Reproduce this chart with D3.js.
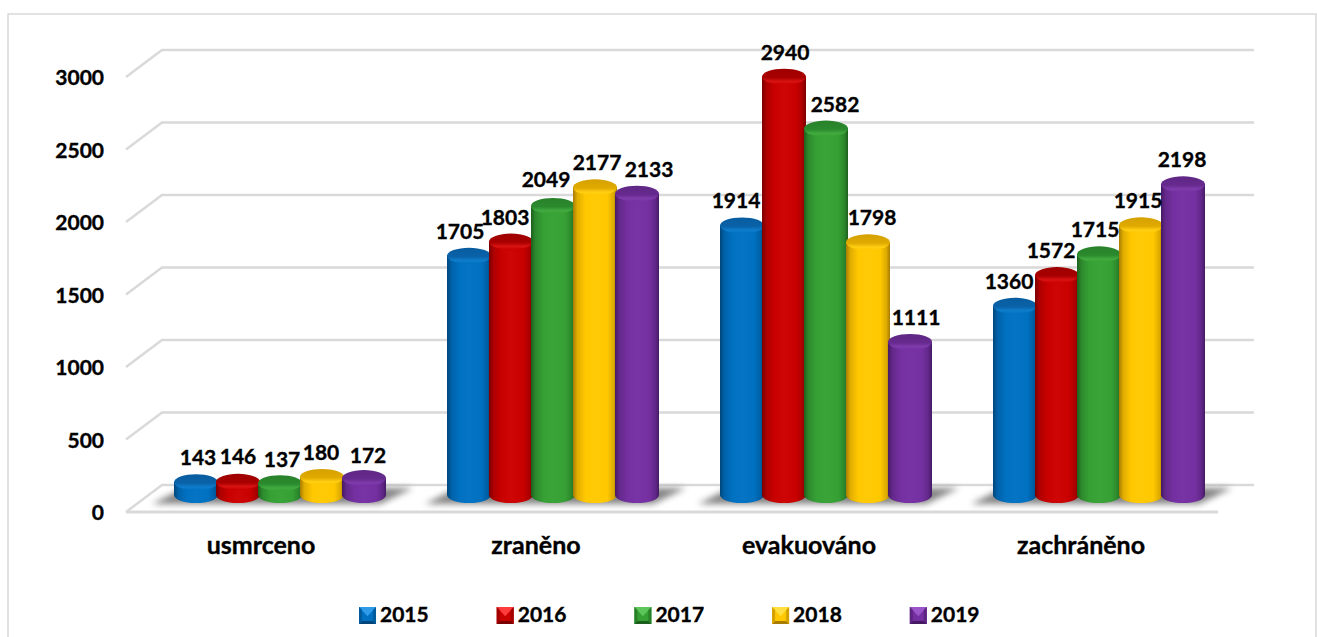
<!DOCTYPE html>
<html><head><meta charset="utf-8">
<script src="https://cdn.jsdelivr.net/npm/d3@7/dist/d3.min.js"></script>
<style>html,body{margin:0;padding:0;background:#fff}svg{display:block}
text{font-family:Lato,"Open Sans",sans-serif;font-weight:700;fill:#000;stroke:#000;stroke-width:.35px}</style></head>
<body><svg id="c" width="1317" height="637"></svg>
<script>
const categories = ["usmrceno","zraněno","evakuováno","zachráněno"];
const years = ["2015","2016","2017","2018","2019"];
const v2015 = [143,1705,1914,1360];
const v2016 = [146,1803,2940,1572];
const v2017 = [137,2049,2582,1715];
const v2018 = [180,2177,1798,1915];
const v2019 = [172,2133,1111,2198];
const yTicks = [0,500,1000,1500,2000,2500,3000];
const seriesValues = [v2015,v2016,v2017,v2018,v2019];
const seriesColors = [
 {mid:"#0070c0",dark:"#00467a",light:"#2f9be8",top:"#0a62a8"},
 {mid:"#c80000",dark:"#7a0000",light:"#ff3b3b",top:"#a80000"},
 {mid:"#36a035",dark:"#1c5f1d",light:"#5cc65a",top:"#2b8a2d"},
 {mid:"#ffc800",dark:"#a87c00",light:"#ffe040",top:"#e0aa00"},
 {mid:"#7430a0",dark:"#451a63",light:"#9a55c8",top:"#662a8e"}];
// small manual label nudges, as in the hand-placed labels of the original
const labelDx = [[2,0,2,-1,4],[-9,-6,-7,2,12],[-6,1,9,4,6],[-6,-6,-4,-3,-1]];
const labelDy = [[0,-1,1,0,2],[0,0,-2,0,0],[0,0,0,0,0],[0,0,0,0,0]];
const categoryDx = [-19,-17,-17,-18];

const svg=d3.select("#c");
const defs=svg.append("defs");
const depthX=36, depthY=-27;
const floorY=512, frontL=126, frontR=1218;
const yAxis=d3.scaleLinear().domain([0,3000]).range([floorY,77]);
const x0=d3.scaleBand().domain(categories).range([143.5,1235.5]);
const x1=d3.scaleBand().domain(years).range([-105,105]);
const barW=44, ry=8, baseY=495;
const yTop=d3.scaleLinear().domain([0,3000]).range([503,68]);

defs.append("filter").attr("id","soft").attr("x","-5%").attr("y","-50%").attr("width","110%").attr("height","200%")
 .append("feGaussianBlur").attr("stdDeviation",0.5);
defs.append("filter").attr("id","shadow").attr("x","-20%").attr("y","-60%").attr("width","140%").attr("height","220%")
 .append("feGaussianBlur").attr("stdDeviation",3);

seriesColors.forEach((c,i)=>{
 const g=defs.append("linearGradient").attr("id","cyl"+i);
 [[0,c.dark],[.1,d3.interpolateRgb(c.dark,c.mid)(.65)],[.28,c.mid],[.5,d3.interpolateRgb(c.mid,c.light)(.1)],[.78,c.mid],[.92,d3.interpolateRgb(c.dark,c.mid)(.6)],[1,c.dark]]
  .forEach(s=>g.append("stop").attr("offset",s[0]).attr("stop-color",s[1]));
 const t=defs.append("linearGradient").attr("id","top"+i).attr("x1",0).attr("y1",0).attr("x2",0).attr("y2",1);
 t.append("stop").attr("offset",0).attr("stop-color",d3.interpolateRgb(c.top,c.dark)(.2));
 t.append("stop").attr("offset",.55).attr("stop-color",c.top);
 t.append("stop").attr("offset",.8).attr("stop-color",d3.interpolateRgb(c.mid,c.light)(.3));
 t.append("stop").attr("offset",1).attr("stop-color",c.mid);
});

// frame
svg.append("rect").attr("x",8).attr("y",14).attr("width",1308).attr("height",640)
 .attr("fill","#fff").attr("stroke","#d9d9d9").attr("stroke-width",1.5);

// walls / gridlines
const grid=svg.append("g").attr("stroke","#d9d9d9").attr("stroke-width",2.4).attr("fill","none").attr("filter","url(#soft)");
grid.selectAll("path.g").data(yTicks).join("path").attr("class","g")
 .attr("d",d=>`M${frontL},${yAxis(d)}L${frontL+depthX},${yAxis(d)+depthY}L${frontR+depthX},${yAxis(d)+depthY}`);
grid.append("path").attr("d",`M${frontL},${floorY}H${frontR}`).attr("stroke-width",3);

// y labels
svg.append("g").selectAll("text").data(yTicks).join("text")
 .attr("x",104).attr("y",d=>yAxis(d)+8).attr("text-anchor","end").attr("font-size",21).text(d=>d);

// floor shadows
svg.append("g").selectAll("path").data(categories).join("path")
 .attr("d",c=>{const m=x0(c)+x0.bandwidth()/2;
   return `M${m-128},504L${m+100},504L${m+133},488L${m-96},488Z`;})
 .attr("fill","#6f6f6f").attr("opacity",.85).attr("filter","url(#shadow)");

// bars
const bars=svg.append("g");
categories.forEach((c,ci)=>{
 const m=x0(c)+x0.bandwidth()/2;
 years.forEach((yr,si)=>{
  const val=seriesValues[si][ci];
  const cx=m+x1(yr)+x1.bandwidth()/2, t=yTop(val), rx=barW/2;
  const g=bars.append("g");
  g.append("path").attr("fill",`url(#cyl${si})`)
   .attr("d",`M${cx-rx},${t}L${cx-rx},${baseY}A${rx},${ry} 0 0 0 ${cx+rx},${baseY}L${cx+rx},${t}Z`);
  g.append("ellipse").attr("cx",cx).attr("cy",t).attr("rx",rx).attr("ry",ry).attr("fill",`url(#top${si})`);
 });
});

// data labels
const labels=svg.append("g");
categories.forEach((c,ci)=>{
 const m=x0(c)+x0.bandwidth()/2;
 years.forEach((yr,si)=>{
  const val=seriesValues[si][ci];
  labels.append("text").attr("x",m+x1(yr)+x1.bandwidth()/2+labelDx[ci][si])
   .attr("y",yTop(val)-17+labelDy[ci][si]).attr("text-anchor","middle").attr("font-size",21).text(val);
 });
});

// category labels
svg.append("g").selectAll("text").data(categories).join("text")
 .attr("x",(c,i)=>x0(c)+x0.bandwidth()/2+categoryDx[i]).attr("y",554).attr("text-anchor","middle").attr("font-size",25).text(c=>c);

// legend
const lg=svg.append("g").selectAll("g").data(years).join("g")
 .attr("transform",(d,i)=>`translate(${359+i*137.7},607)`);
lg.each(function(d,i){
 const g=d3.select(this),c=seriesColors[i],s=17;
 g.append("rect").attr("width",s).attr("height",s).attr("fill",c.mid);
 g.append("path").attr("d",`M0,0H${s}L${s/2},${s*.55}Z`).attr("fill",c.light);
 g.append("path").attr("d",`M0,${s}H${s}L${s-3},${s-3}H3Z`).attr("fill",c.dark);
 g.append("path").attr("d",`M0,0V${s}L3,${s-3}V3Z`).attr("fill",d3.interpolateRgb(c.mid,c.dark)(.5));
 g.append("path").attr("d",`M${s},0V${s}L${s-3},${s-3}V3Z`).attr("fill",d3.interpolateRgb(c.mid,c.dark)(.5));
 g.append("text").attr("x",21).attr("y",15).attr("font-size",21).text(d);
});
</script></body></html>
